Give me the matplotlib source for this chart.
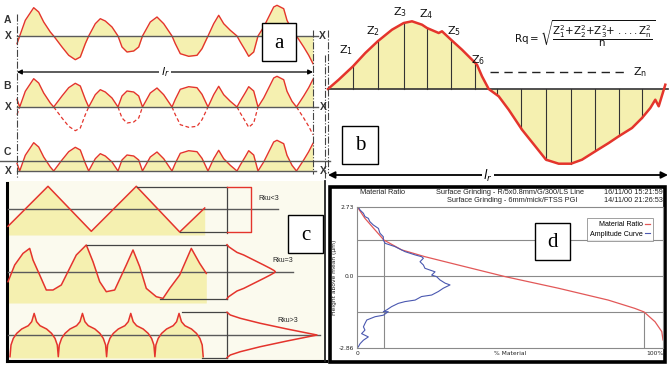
import numpy as np
import matplotlib
matplotlib.use("Agg")
import matplotlib.pyplot as plt
from matplotlib.patches import Rectangle

plt.rcParams['mathtext.default'] = 'regular'

RED = '#e4342c'
YEL = '#f5f0b0'
GREY = '#5a5a5a'

# panel a - profile A: position along l_r and height above mean line X (px)
a_x = [0, 2.7, 8.3, 16.7, 21.7, 26.7, 33.3, 36.7, 45, 51.7, 58.3, 63.3, 68.3, 71.7, 78.3,
       83.3, 88.3, 95, 101, 105, 110, 116.7, 121.7, 125.5, 133.3, 140, 146.7, 155, 158.3,
       163.3, 171.7, 180, 185, 191, 196.7, 201.7, 206.7, 213.3, 220, 223.3, 228.3, 231.7,
       236.7, 241, 246.7, 251.7, 256.7, 260, 266.7, 270, 275, 279.5, 286.7, 291.7, 296]
a_z = [-7.7, 0, 15.7, 28.3, 24, 14, 4, 0, -11, -19.3, -23.7, -21, -7.7, 0, 12.3,
       17.3, 15, 9, 0, -11, -16, -15, -11, 0, 14, 19, 12.3, 0, -7.7,
       -17.7, -20.3, -19.3, -12.7, 0, 12.3, 20.7, 12.3, 5.7, 0, -6, -14.3, -20.3,
       -16, 0, 9, 19, 29, 30.7, 27.3, 15.7, 5.7, 0, -11, -19.3, -27.7]

# panel b - profile used for Rq
b_x = [0, 10.7, 25, 37.3, 49.7, 64, 75.7, 84, 94, 99, 110.7, 114, 123, 134, 144, 149,
       154, 160.7, 170.7, 180.7, 194, 207.3, 218, 230.7, 243, 254, 267.3, 280.7, 290.7,
       304, 314, 322.3, 327.3, 330.7, 337.3]
b_z = [0, 9.3, 22.7, 36, 47.7, 59.3, 66, 67.7, 64.3, 61, 56, 57.7, 49.3, 39.3, 29.3, 24.3,
       12.7, 0, -7.3, -20.7, -40.7, -57.3, -70.7, -74.7, -74.7, -70.7, -62.3, -54, -47.3,
       -39, -29, -19, -10.7, -17.3, 4.3]
b_samples = [25, 49.7, 75.7, 99, 123, 147.3, 169, 193.3, 218, 243, 267.3, 290.7, 314]
z_names = ['Z_1', 'Z_2', 'Z_3', 'Z_4', 'Z_5', 'Z_6']

# panel c - three profiles and their height distributions
tri_x = [0, 40, 83.3, 128.3, 171.7, 196.7]
tri_z = [-17.3, 22.7, -22.3, 22.7, -23, 1]
rnd_x = [0, 6.7, 15, 21.7, 25, 31.7, 38.3, 45, 53.3, 58.3, 68.3, 78.3, 85, 91.7, 98.3,
         106.7, 118.3, 125, 131.7, 138.3, 148.3, 155, 161.7, 171.7, 183.3, 191.7, 198.3]
rnd_z = [-10, 6.7, 18.3, 23.3, 11.7, -3.3, -18.3, -18.3, -13.3, -3.3, 16.7, 26.7, 10, -10, -20,
         -18.3, 6.7, 21.7, 5, -16.7, -25, -26.7, -16.7, -3.3, 23.3, 8.3, -1.7]
cusp_u = [0, 1, 3.3, 6.7, 11.7, 18.3, 21.7, 24.15]     # half of one cell, from the trough
cusp_h = [0, 11.7, 18.3, 23.3, 27.7, 31, 35, 43.3]
n_cells = 4
gauss_d = [-27, -25, -22.7, -19.3, -16.7, -11.7, -6.7, -3.3, -1, 0]
gauss_w = [0, 1.7, 5, 10, 16.7, 26.7, 36.7, 43.3, 47.3, 48.3]
lepto_d = [-22.7, -20, -16.7, -11.7, -6, -2, 0]
lepto_w = [0, 3.3, 13.3, 33.3, 60, 80, 90]
rku_labels = ['Rku<3', 'Rku=3', 'Rku>3']

# panel d - material ratio (Abbott) curve and amplitude curve
mr_pct = [0, 0.4, 2.6, 5.9, 8.8, 14.6, 22.2, 33.1, 48.4, 65.8, 82.1, 90.8, 93.8, 97.4, 99.6, 100]
mr_h = [2.73, 2.68, 2.28, 1.82, 1.42, 1.03, 0.76, 0.43, -0.03, -0.49, -0.96, -1.29, -1.43,
        -1.82, -2.21, -2.54]
amp_pct = [0.4, 1.0, 2.1, 2.6, 3.7, 4.2, 5.3, 7.0, 7.5, 8.6, 8.6, 9.2, 12.4, 15.7, 19.0, 21.1,
           21.7, 20.6, 21.7, 22.2, 25.5, 24.4, 26.0, 27.1, 28.8, 30.4, 28.2, 26.6, 24.4, 21.1,
           19.0, 15.7, 13.5, 11.3, 9.7, 8.6, 10.2, 8.6, 5.9, 3.2, 2.6, 2.1, 2.6, 1.5, 3.7, 2.1,
           1.0, 0.4]
amp_h = [2.73, 2.61, 2.48, 2.35, 2.28, 2.15, 2.02, 1.88, 1.69, 1.55, 1.42, 1.29, 1.16, 0.96,
         0.83, 0.76, 0.70, 0.56, 0.43, 0.30, 0.16, 0.03, -0.03, -0.16, -0.29, -0.36, -0.49,
         -0.62, -0.76, -0.82, -0.96, -1.02, -1.09, -1.22, -1.35, -1.42, -1.42, -1.56, -1.62,
         -1.75, -1.89, -2.02, -2.15, -2.29, -2.42, -2.55, -2.69, -2.82]
d_yticks = [-2.86, 0.0, 2.73]
d_ylabels = ['-2.86', '0.0', '2.73']
h_hi, h_lo = 1.42, -1.42
pct_hi, pct_lo = 8.8, 93.8

W, H = 670, 368
fig = plt.figure(figsize=(W / 100, H / 100), dpi=100)
ax = fig.add_axes([0, 0, 1, 1])
ax.set_xlim(0, W)
ax.set_ylim(H, 0)
ax.axis('off')

lab = dict(fontsize=7.5, fontweight='bold', color='#333333', family='Liberation Sans',
           ha='center', va='center')

# ---------------- panel a
x0 = 17
xa = x0 + np.array(a_x)
z = np.array(a_z)
za = np.abs(z)
yA, yB, yC, yCm = 36, 107, 171, 161
ax.fill_between(xa, yA, yA - z, color=YEL, lw=0)
ax.plot(xa, yA - z, color=RED, lw=1)
ax.plot([17, 318], [yA, yA], color=GREY, lw=1)
ax.fill_between(xa, yB, yB - za, color=YEL, lw=0)
ax.plot(xa, yB - za, color=RED, lw=1)
ax.plot(xa, np.where(z <= 0, yB - z, np.nan), color=RED, lw=0.9, ls=(0, (3, 2)))
ax.plot([17, 318], [yB, yB], color=GREY, lw=1)
ax.fill_between(xa, yC, yC - za, color=YEL, lw=0)
ax.plot(xa, yC - za, color=RED, lw=1)
ax.plot([0, 330], [yCm, yCm], color=GREY, lw=1)
ax.plot([17, 316], [yC, yC], color=GREY, lw=1)
for xv, y1, y2 in [(17, 14, 178), (313, 30, 174), (325, 55, 178)]:
    ax.plot([xv, xv], [y1, y2], color='#444444', lw=0.8, ls='-.')
for t, xx, yy in [('A', 7, 20), ('X', 8, yA), ('B', 7, 86), ('X', 8, yB), ('C', 7, 152),
                  ('X', 8, yC), ('X', 322, yA), ('X', 323, yB), ('X', 323, yC)]:
    ax.text(xx, yy, t, **lab)
ax.annotate('', xy=(17, 72), xytext=(313, 72),
            arrowprops=dict(arrowstyle='<|-|>', color='k', lw=0.9, mutation_scale=7,
                            shrinkA=0, shrinkB=0))
ax.text(165, 72, r'$\mathit{l}_{\mathit{r}}$', fontsize=8, ha='center', va='center',
        bbox=dict(fc='white', ec='none', pad=1))

# ---------------- panel b
xb0, yb = 328, 89
xb = xb0 + np.array(b_x)
zb = np.array(b_z)
ax.fill_between(xb, yb, yb - zb, color=YEL, lw=0)
for s in b_samples:
    hz = np.interp(s, b_x, b_z)
    ax.plot([xb0 + s] * 2, [yb, yb - hz], color='#333333', lw=0.8)
ax.plot([328, 668], [yb, yb], color='#333333', lw=1.2)
ax.plot(xb, yb - zb, color=RED, lw=1.8)
ax.plot([328, 328], [30, 173], color='#444444', lw=0.8, ls='-.')
for name, (xx, yy) in zip(z_names, [(346, 50), (373, 31), (400, 12), (426, 14), (454, 31),
                                     (478, 60)]):
    ax.text(xx, yy, '$' + name + '$', fontsize=8, ha='center', va='center', color='#111111')
ax.plot([490, 628], [72, 72], color='#222222', lw=1, ls=(0, (6, 4)))
ax.text(640, 72, '$Z_n$', fontsize=8, ha='center', va='center', color='#111111')
ax.text(585, 34, r'$Rq = \sqrt{\dfrac{Z_1^2{+}Z_2^2{+}Z_3^2{+}\ ....Z_n^2}{n}}$',
        fontsize=7.4, ha='center', va='center', color='#111111')
ax.annotate('', xy=(328, 175), xytext=(668, 175),
            arrowprops=dict(arrowstyle='<|-|>', color='k', lw=1.3, mutation_scale=10,
                            shrinkA=0, shrinkB=0))
ax.text(488, 176, r'$\mathit{l}_{\mathit{r}}$', fontsize=9, ha='center', va='center',
        bbox=dict(fc='white', ec='none', pad=1))

# ---------------- panel c
ax.add_patch(Rectangle((7, 181), 318, 180, fc='#fbfaee', ec='none'))
ax.plot([7, 7], [183, 361], color='k', lw=2.2)
ax.plot([7, 326], [361, 361], color='k', lw=2.2)
ax.plot([325, 325], [181, 361], color='#222222', lw=1.3)
xc0, xv = 8, 227
# row 1 - triangle
yr1 = 209
tx = xc0 + np.array(tri_x)
ax.fill_between(tx, 235, yr1 - np.array(tri_z), color=YEL, lw=0)
ax.plot([8, 278], [yr1, yr1], color=GREY, lw=1)
ax.plot(tx, yr1 - np.array(tri_z), color=RED, lw=1.1)
ax.plot([137, xv], [187.3, 187.3], color='#444444', lw=0.9)
ax.plot([180, xv], [232.3, 232.3], color='#444444', lw=0.9)
ax.plot([xv, xv], [187.3, 233], color='#444444', lw=0.9)
ax.plot([xv, 251, 251, xv], [187.3, 187.3, 232.3, 232.3], color=RED, lw=1)
# row 2 - random profile
yr2 = 271.7
rx = xc0 + np.array(rnd_x)
ax.fill_between(rx, 303, yr2 - np.array(rnd_z), color=YEL, lw=0)
ax.plot([8, 293], [yr2, yr2], color=GREY, lw=1)
ax.plot(rx, yr2 - np.array(rnd_z), color=RED, lw=1.1)
ax.plot([86.7, xv], [245, 245], color='#444444', lw=0.9)
ax.plot([160, xv], [299, 299], color='#444444', lw=0.9)
ax.plot([xv, xv], [245, 299], color='#444444', lw=0.9)
gd = np.concatenate([gauss_d, -np.array(gauss_d[::-1][1:])])
gw = np.concatenate([gauss_w, gauss_w[::-1][1:]])
ax.plot(xv + gw, yr2 + gd, color=RED, lw=1.1)
# row 3 - cusped profile
yr3, ytr = 335, 356.7
cell = 2 * cusp_u[-1]
cu = np.concatenate([cusp_u, cell - np.array(cusp_u[::-1][1:])])
ch = np.concatenate([cusp_h, cusp_h[::-1][1:]])
cx = np.concatenate([10 + k * cell + cu for k in range(n_cells)])
chh = np.tile(ch, n_cells)
ax.fill_between(cx, 358, ytr - chh, color=YEL, lw=0)
ax.plot([8, 320], [yr3, yr3], color=GREY, lw=1)
ax.plot(cx, ytr - chh, color=RED, lw=1.1)
ax.plot([181.7, xv], [312.3, 312.3], color='#444444', lw=0.9)
ax.plot([201.7, xv], [357.7, 357.7], color='#444444', lw=0.9)
ax.plot([xv, xv], [312.3, 357.7], color='#444444', lw=0.9)
ld = np.concatenate([lepto_d, -np.array(lepto_d[::-1][1:])])
lw_ = np.concatenate([lepto_w, lepto_w[::-1][1:]])
ax.plot(xv + lw_, yr3 + ld, color=RED, lw=1.1)
for t, xx, yy in zip(rku_labels, [269, 283, 288], [198, 261, 320]):
    ax.text(xx, yy, t, fontsize=5, ha='center', va='center', color='#222222',
            family='Liberation Sans')

# ---------------- panel d
ax.add_patch(Rectangle((330, 186.5), 335, 175, fc='white', ec='k', lw=2.6))
ax.text(382, 193, 'Material Ratio', fontsize=5.3, ha='center', va='center',
        family='Liberation Sans', color='#222222')
ax.text(510, 192, 'Surface Grinding - R/5x0.8mm/G/300/LS Line', fontsize=5.3, ha='center',
        va='center', family='Liberation Sans', color='#222222')
ax.text(512, 200, 'Surface Grinding - 6mm/mick/FTSS PGI', fontsize=5.3, ha='center',
        va='center', family='Liberation Sans', color='#222222')
ax.text(663, 192, '16/11/00 15:21:59', fontsize=5.3, ha='right', va='center',
        family='Liberation Sans', color='#222222')
ax.text(663, 200, '14/11/00 21:26:53', fontsize=5.3, ha='right', va='center',
        family='Liberation Sans', color='#222222')

axd = fig.add_axes([357 / W, 1 - 348 / H, 306 / W, 141 / H])
axd.set_facecolor('none')
axd.set_xlim(0, 100)
axd.set_ylim(d_yticks[0], d_yticks[-1])
for y in [h_hi, 0.0, h_lo]:
    axd.axhline(y, color='#8a8a8a', lw=0.8)
axd.vlines(pct_hi, d_yticks[0], h_hi, color='#8a8a8a', lw=0.8)
axd.vlines(pct_lo, d_yticks[0], h_lo, color='#8a8a8a', lw=0.8)
axd.plot(mr_pct, mr_h, color='#e25858', lw=0.9, label='Material Ratio')
axd.plot(amp_pct, amp_h, color='#4a58b0', lw=0.8, label='Amplitude Curve')
for sp in axd.spines.values():
    sp.set_color('#8a8a8a')
    sp.set_linewidth(0.8)
axd.set_yticks(d_yticks)
axd.set_yticklabels(d_ylabels)
axd.set_xticks([0, 50, 100])
axd.set_xticklabels(['0', '% Material', '100%'])
axd.get_xticklabels()[-1].set_ha('right')
axd.tick_params(length=0, labelsize=4.3, pad=2, colors='#222222')
axd.set_ylabel('Height above mean (\u00b5m)', fontsize=4.3, labelpad=1, color='#222222')
leg = axd.legend(loc='upper right', bbox_to_anchor=(0.98, 0.945), markerfirst=False,
                 handlelength=0.7, handletextpad=0.3, fancybox=False,
                 edgecolor='#888888', borderpad=0.45, labelspacing=0.35,
                 prop={'family': 'Liberation Sans', 'size': 5.1})
leg.get_frame().set_linewidth(0.7)

# ---------------- panel tags on top
top = fig.add_axes([0, 0, 1, 1], zorder=5)
top.set_xlim(0, W)
top.set_ylim(H, 0)
top.axis('off')
for t, (bx0, by0, bw, bh) in [('a', (262, 23, 34, 38)), ('b', (342, 126, 36, 38)),
                               ('c', (288, 215, 35, 38)), ('d', (535, 223, 35, 37))]:
    top.add_patch(Rectangle((bx0, by0), bw, bh, fc='white', ec='k', lw=1))
    top.text(bx0 + bw / 2, by0 + bh / 2 + 1, t, fontsize=15, ha='center', va='center',
             family='Liberation Serif')

fig.savefig('out.png', dpi=100)
